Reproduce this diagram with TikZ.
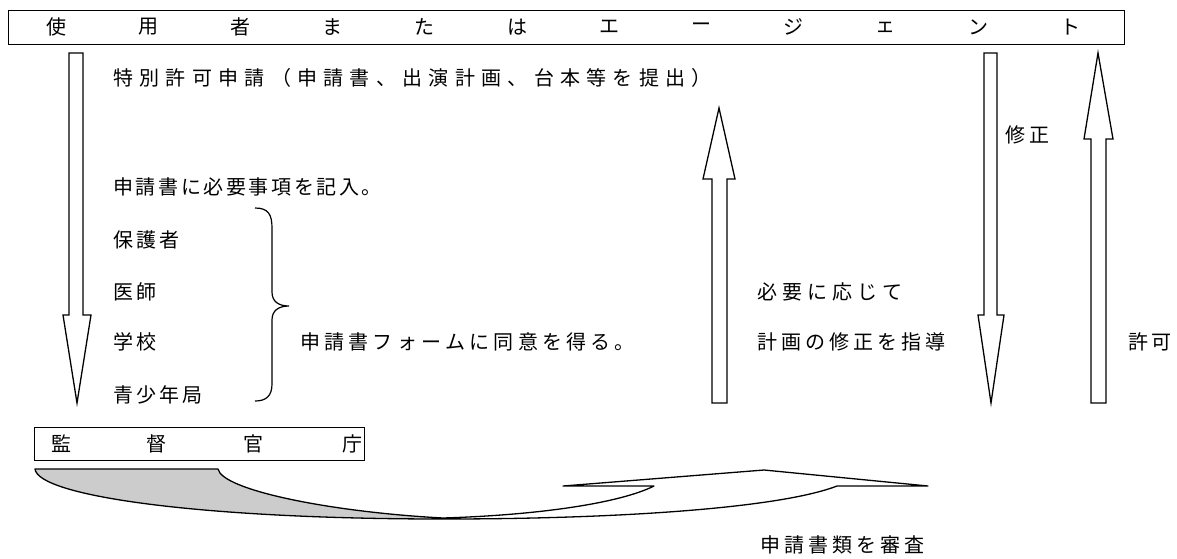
\documentclass[tikz,border=0pt]{standalone}
\usepackage{fontspec}
\newfontfamily\jp{Noto Sans CJK JP}
\newlength\pitchlen
\newcommand\pitched[2]{\setlength\pitchlen{#1pt}\pitchloop#2\relax}
\def\pitchloop#1{\ifx\relax#1\else\makebox[\pitchlen][l]{#1}\expandafter\pitchloop\fi}
\begin{document}
\begin{tikzpicture}[x=1pt,y=-1pt,
  txt/.style={font=\jp\fontsize{20}{24}\selectfont, inner sep=0pt},
  ltxt/.style={txt, anchor=west},
  blk/.style={draw, line width=1.3pt, line join=miter},
  box/.style={draw, line width=1pt, inner sep=0pt}]
\useasboundingbox (0,0) rectangle (1177,558);

% top box
\node[box, minimum width=1116pt, minimum height=34pt, anchor=north west] (top) at (8,10) {};
\foreach \c [count=\i from 0] in {使,用,者,ま,た,は,エ,ー,ジ,ェ,ン,ト}
  \node[txt] (t\i) at ({56+92.2*\i},27) {\c};

% bottom box
\node[box, minimum width=330pt, minimum height=33pt, anchor=north west] (bot) at (34,427) {};
\foreach \c/\x [count=\i] in {監/61,督/156,官/253,庁/352}
  \node[txt] (b\i) at (\x,443.5) {\c};

% block arrows
\draw[blk] (69,53) -- (83,53) -- (83,315) -- (91,315) -- (77,403) -- (63,315) -- (69,315) -- cycle;
\draw[blk] (712,403) -- (727,403) -- (727,179) -- (735,179) -- (719,108) -- (703,179) -- (712,179) -- cycle;
\draw[blk] (984,53) -- (997,53) -- (997,315) -- (1004,315) -- (991,403) -- (978,315) -- (984,315) -- cycle;
\draw[blk] (1091,403) -- (1106,403) -- (1106,139) -- (1113,139) -- (1098,53) -- (1084,139) -- (1091,139) -- cycle;

% brace
\draw[line width=1.2pt] (255,208) .. controls (268,208) and (272,214) .. (272,228) -- (272,292)
  .. controls (272,301) and (278,306) .. (289,306) .. controls (278,306) and (272,311) .. (272,320)
  -- (272,384) .. controls (272,396) and (266,401) .. (255,401);

% curved arrow
\fill[gray!40] (35,469) -- (218,469) .. controls (222,490) and (330,512) .. (443,518)
  -- (443,519) .. controls (200,519) and (38,496) .. (35,469) -- cycle;
\draw[blk, line join=round] (35,469) -- (218,469) .. controls (222,490) and (330,512) .. (443,518)
  .. controls (540,515) and (620,503) .. (654,486) -- (563,486) -- (764,470) -- (928,486) -- (837,486)
  .. controls (780,508) and (620,519) .. (443,519) .. controls (200,519) and (38,496) .. (35,469) -- cycle;

% texts
\node[ltxt] (l1) at (113,78) {\pitched{26.3}{特別許可申請（申請書、出演計画、台本等を提出）}};
\node[ltxt] (l2) at (113,187) {\pitched{22.6}{申請書に必要事項を記入。}};
\node[ltxt] (p1) at (113,240) {\pitched{23}{保護者}};
\node[ltxt] (p2) at (113,292) {\pitched{23}{医師}};
\node[ltxt] (p3) at (113,342) {\pitched{23}{学校}};
\node[ltxt] (p4) at (113,395) {\pitched{23}{青少年局}};
\node[ltxt] (cons) at (300,342) {\pitched{24.2}{申請書フォームに同意を得る。}};
\node[ltxt] (g1) at (757,292) {\pitched{25}{必要に応じて}};
\node[ltxt] (g2) at (757,342) {\pitched{24}{計画の修正を指導}};
\node[ltxt] (fix) at (1005,135) {\pitched{24}{修正}};
\node[ltxt] (ok) at (1128,342) {\pitched{23}{許可}};
\node[ltxt] (rev) at (760,545) {\pitched{24}{申請書類を審査}};
\end{tikzpicture}
\end{document}
